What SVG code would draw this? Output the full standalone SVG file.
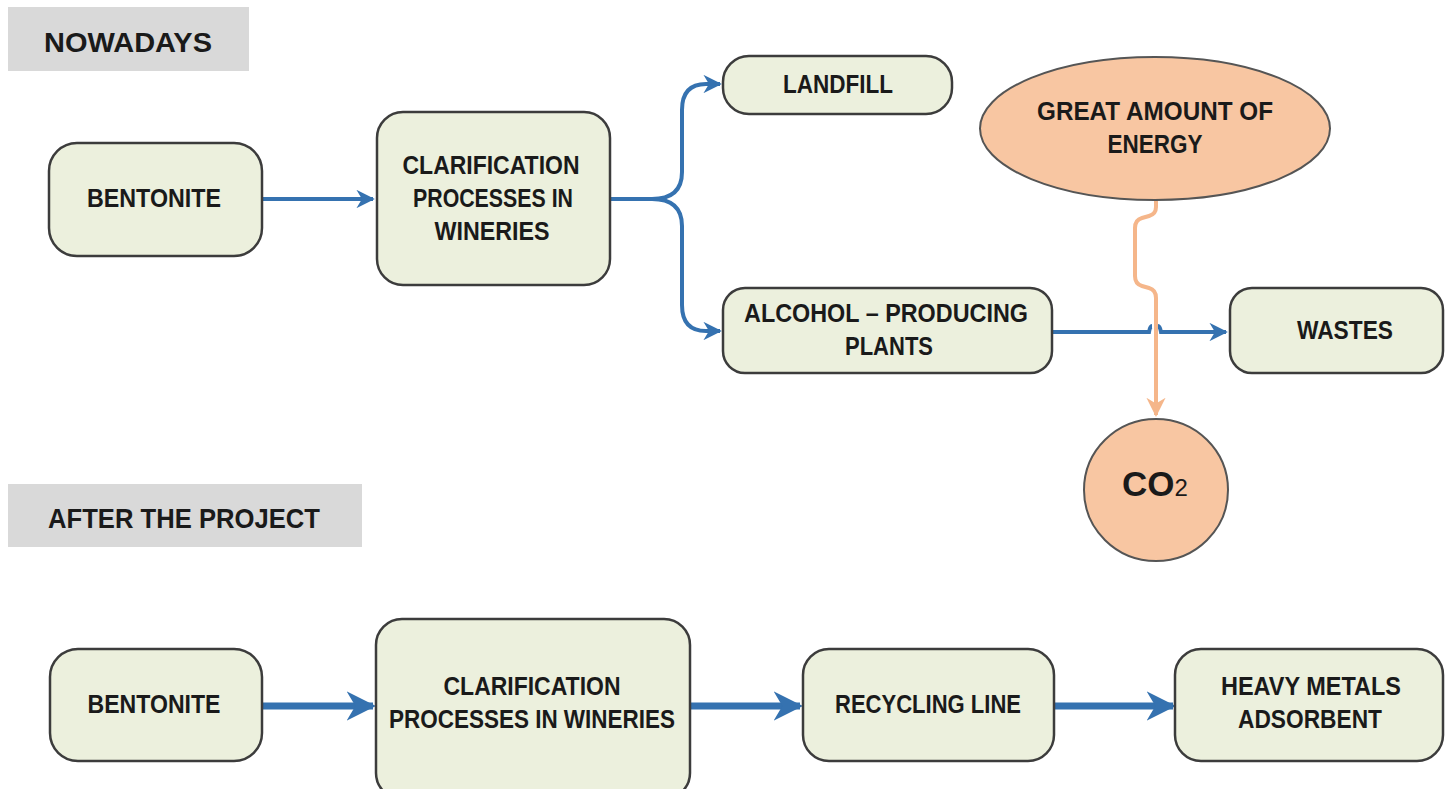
<svg xmlns="http://www.w3.org/2000/svg" width="1445" height="789" viewBox="0 0 1445 789">
<defs>
<marker id="ab" viewBox="0 0 10 10" refX="9" refY="5" markerWidth="4.2" markerHeight="4.2" orient="auto" markerUnits="strokeWidth"><path d="M0,0 L10,5 L0,10 L3,5 Z" fill="#3572b0"/></marker>
<marker id="abt" viewBox="0 0 10 10" refX="9" refY="5" markerWidth="4.6" markerHeight="4.6" orient="auto" markerUnits="strokeWidth"><path d="M0,0 L10,5 L0,10 L3,5 Z" fill="#3572b0"/></marker>
<marker id="ao" viewBox="0 0 10 10" refX="9" refY="5" markerWidth="4.8" markerHeight="4.8" orient="auto" markerUnits="strokeWidth"><path d="M0,0 L10,5 L0,10 L3,5 Z" fill="#f5b68a"/></marker>
</defs>
<style>
.box{fill:#ecf0dd;stroke:#3c3c3c;stroke-width:2.5}
.org{fill:#f8c6a2;stroke:#555;stroke-width:2}
.hdr{fill:#d9d9d9}
text{font-family:"Liberation Sans",Arial,sans-serif;font-weight:bold;fill:#1a1a1a;text-anchor:middle}
.h{text-anchor:start;font-size:28px}
.t{font-size:25px}
.blue{fill:none;stroke:#3572b0;stroke-width:4}
.blue2{fill:none;stroke:#3572b0;stroke-width:7}
.orl{fill:none;stroke:#f5b68a;stroke-width:4}
</style>
<rect width="1445" height="789" fill="#ffffff"/>

<g id="hdr-nowadays"><rect class="hdr" x="8" y="7" width="241" height="64"/><text class="h" x="44" y="52" textLength="168" lengthAdjust="spacingAndGlyphs">NOWADAYS</text></g>
<g id="hdr-after"><rect class="hdr" x="8" y="484" width="354" height="63"/><text class="h" x="48" y="528" textLength="272" lengthAdjust="spacingAndGlyphs">AFTER THE PROJECT</text></g>

<g id="connectors">
<path class="blue" d="M262,199 L373,199" marker-end="url(#abt)"/>
<path class="blue" d="M609,199 L652,199 Q682,199 682,172 L682,110 Q682,84 706,84 L720,84" marker-end="url(#abt)"/>
<path class="blue" d="M652,199 Q682,199 682,226 L682,305 Q682,331 706,331 L720,331" marker-end="url(#abt)"/>
<path class="blue" d="M1052,332 L1149,332 Q1150,326 1152,326 M1158,326 Q1160,326 1161,332 L1226,332" marker-end="url(#abt)"/>
<path class="orl" d="M1156,200 L1156,207 Q1156,214 1149,216 L1142,218 Q1135,220 1135,228 L1135,276 Q1135,284 1142,286 L1149,288 Q1156,290 1156,298 L1156,415" marker-end="url(#ao)"/>
<path class="blue2" d="M262,706 L373,706" marker-end="url(#ab)"/>
<path class="blue2" d="M691,706 L800,706" marker-end="url(#ab)"/>
<path class="blue2" d="M1055,706 L1173,706" marker-end="url(#ab)"/>
</g>

<g id="n-bentonite1"><rect class="box" x="49" y="143" width="213" height="113" rx="28"/><text class="t" x="154" y="207" textLength="134" lengthAdjust="spacingAndGlyphs">BENTONITE</text></g>
<g id="n-clarif1"><rect class="box" x="377" y="112" width="233" height="173" rx="26"/>
<text class="t" x="491" y="174" textLength="177" lengthAdjust="spacingAndGlyphs">CLARIFICATION</text>
<text class="t" x="493" y="207" textLength="160" lengthAdjust="spacingAndGlyphs">PROCESSES IN</text>
<text class="t" x="492" y="240" textLength="115" lengthAdjust="spacingAndGlyphs">WINERIES</text></g>
<g id="n-landfill"><rect class="box" x="723" y="56" width="229" height="58" rx="26"/><text class="t" x="838" y="93" textLength="110" lengthAdjust="spacingAndGlyphs">LANDFILL</text></g>
<g id="n-alcohol"><rect class="box" x="723" y="288" width="329" height="85" rx="22"/>
<text class="t" x="886" y="322" textLength="284" lengthAdjust="spacingAndGlyphs">ALCOHOL – PRODUCING</text>
<text class="t" x="889" y="355" textLength="88" lengthAdjust="spacingAndGlyphs">PLANTS</text></g>
<g id="n-wastes"><rect class="box" x="1230" y="288" width="213" height="85" rx="22"/><text class="t" x="1345" y="339" textLength="96" lengthAdjust="spacingAndGlyphs">WASTES</text></g>
<g id="n-energy"><ellipse class="org" cx="1155" cy="128.5" rx="175" ry="71.5"/>
<text class="t" x="1155" y="120" textLength="236" lengthAdjust="spacingAndGlyphs">GREAT AMOUNT OF</text>
<text class="t" x="1155" y="153" textLength="95" lengthAdjust="spacingAndGlyphs">ENERGY</text></g>
<g id="n-co2"><ellipse class="org" cx="1156" cy="490" rx="72" ry="71"/>
<text x="1155" y="496" style="font-size:35px">CO<tspan style="font-size:24px;font-weight:normal">2</tspan></text></g>

<g id="n-bentonite2"><rect class="box" x="50" y="649" width="212" height="112" rx="28"/><text class="t" x="154" y="713" textLength="133" lengthAdjust="spacingAndGlyphs">BENTONITE</text></g>
<g id="n-clarif2"><rect class="box" x="376" y="619" width="314" height="180" rx="26"/>
<text class="t" x="532" y="695" textLength="177" lengthAdjust="spacingAndGlyphs">CLARIFICATION</text>
<text class="t" x="532" y="728" textLength="286" lengthAdjust="spacingAndGlyphs">PROCESSES IN WINERIES</text></g>
<g id="n-recycling"><rect class="box" x="803" y="649" width="251" height="112" rx="26"/><text class="t" x="928" y="713" textLength="186" lengthAdjust="spacingAndGlyphs">RECYCLING LINE</text></g>
<g id="n-heavy"><rect class="box" x="1175" y="649" width="268" height="112" rx="26"/>
<text class="t" x="1311" y="695" textLength="180" lengthAdjust="spacingAndGlyphs">HEAVY METALS</text>
<text class="t" x="1310" y="728" textLength="144" lengthAdjust="spacingAndGlyphs">ADSORBENT</text></g>
</svg>
